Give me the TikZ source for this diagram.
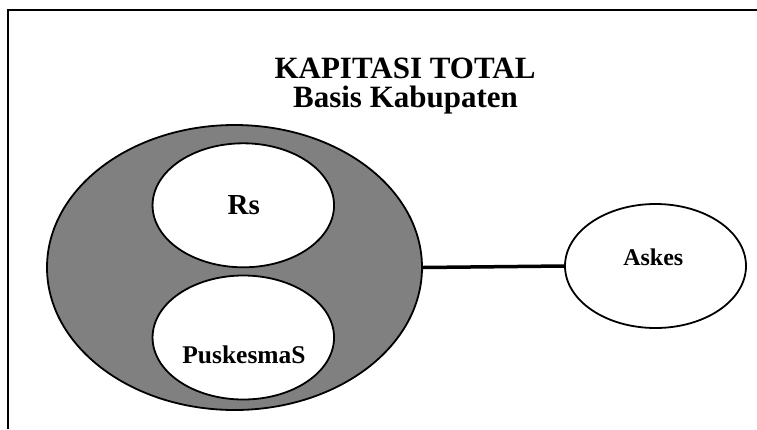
\documentclass[tikz,border=0pt]{standalone}
\usepackage{fontspec}
\setmainfont{Liberation Serif}
\usetikzlibrary{shapes.geometric}
\begin{document}
\begin{tikzpicture}[x=1pt,y=-1pt,
  oval/.style={ellipse,draw=black,line width=1.8pt,inner sep=0pt},
  lbl/.style={anchor=base,inner sep=0pt,font=\bfseries}]
\useasboundingbox (0,0) rectangle (757,429);
\coordinate (fbl) at (8,429);
\coordinate (ftl) at (8,10);
\coordinate (ftr) at (757,10);
\draw[line width=2pt] (fbl) -- (ftl) -- (ftr);
\node[lbl,font=\bfseries\fontsize{31}{36}\selectfont] (t1) at (405,78.3) {KAPITASI TOTAL};
\node[lbl,font=\bfseries\fontsize{31}{36}\selectfont] (t2) at (405.5,107.7) {Basis Kabupaten};
\node[oval,fill={rgb,255:red,128;green,128;blue,128},minimum width=375,minimum height=285] (big) at (234.5,267.5) {};
\node[oval,fill=white,minimum width=181.5,minimum height=124] (rs) at (243.3,205.3) {};
\node[oval,fill=white,minimum width=181.5,minimum height=124] (pk) at (243.3,337.5) {};
\node[oval,fill=white,minimum width=181,minimum height=124] (askes) at (655.5,266) {};
\draw[line width=3.5pt] (big.east) -- (askes.west);
\node[lbl,font=\bfseries\fontsize{29}{33}\selectfont] (rst) at (243.8,214) {Rs};
\node[lbl,font=\bfseries\fontsize{25.5}{30}\selectfont] (pkt) at (244,363.3) {PuskesmaS};
\node[lbl,font=\bfseries\fontsize{24}{28}\selectfont] (askt) at (653.3,265) {Askes};
\end{tikzpicture}
\end{document}
